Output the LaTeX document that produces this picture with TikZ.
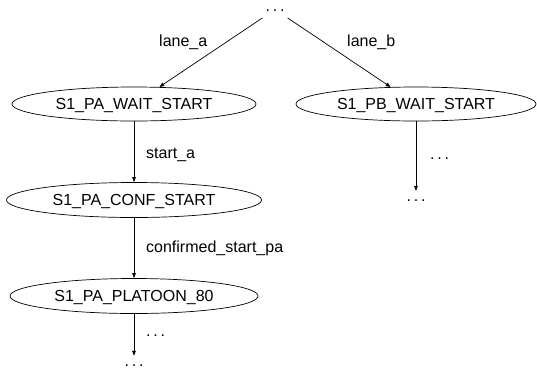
\documentclass[tikz,border=0pt]{standalone}
\usepackage{fontspec}
\setmainfont{Liberation Sans}
\usetikzlibrary{shapes.geometric,arrows.meta}
\newcommand\mydots{.\kern2.8bp.\kern2.8bp.}
\begin{document}
\begin{tikzpicture}[x=1bp,y=-1bp,
  every node/.style={font=\fontsize{16bp}{19bp}\selectfont},
  state/.style={draw,ellipse,inner sep=0pt,line width=0.7bp,text height=11.5bp,text depth=0pt},
  dotnode/.style={inner sep=3bp,text height=7bp,text depth=4bp,anchor=base},
  lbl/.style={inner sep=0pt,anchor=base west},
  edge/.style={line width=0.7bp,-{Triangle[length=5bp,width=3.6bp]}}]
\useasboundingbox (0,0) rectangle (537,370);
% nodes
\node[dotnode] (top) at (275,11) {\mydots};
\node[state,minimum width=244bp,minimum height=34bp] (e1) at (134,104) {S1\_PA\_WAIT\_START};
\node[state,minimum width=240bp,minimum height=34bp] (e2) at (416,104) {S1\_PB\_WAIT\_START};
\node[state,minimum width=255bp,minimum height=35bp] (conf) at (134,200) {S1\_PA\_CONF\_START};
\node[state,minimum width=248bp,minimum height=35bp] (plat) at (134,296) {S1\_PA\_PLATOON\_80};
\node[dotnode] (rdots) at (416,201) {\mydots};
\node[dotnode] (bdots) at (134,366) {\mydots};
% edges
\draw[edge] (top) -- (e1);
\draw[edge] (top) -- (e2);
\draw[edge] (e1) -- (conf);
\draw[edge] (conf) -- (plat);
\draw[edge] (e2) -- (rdots);
\draw[edge] (plat) -- (bdots);
% labels
\node[lbl] (la) at (159,46) {lane\_a};
\node[lbl] (lb) at (347,46) {lane\_b};
\node[lbl] (sa) at (146,158) {start\_a};
\node[lbl] (cs) at (146,252) {confirmed\_start\_pa};
\node[lbl] (rd) at (430,159) {\mydots};
\node[lbl] (bd) at (146,336) {\mydots};
\end{tikzpicture}
\end{document}
